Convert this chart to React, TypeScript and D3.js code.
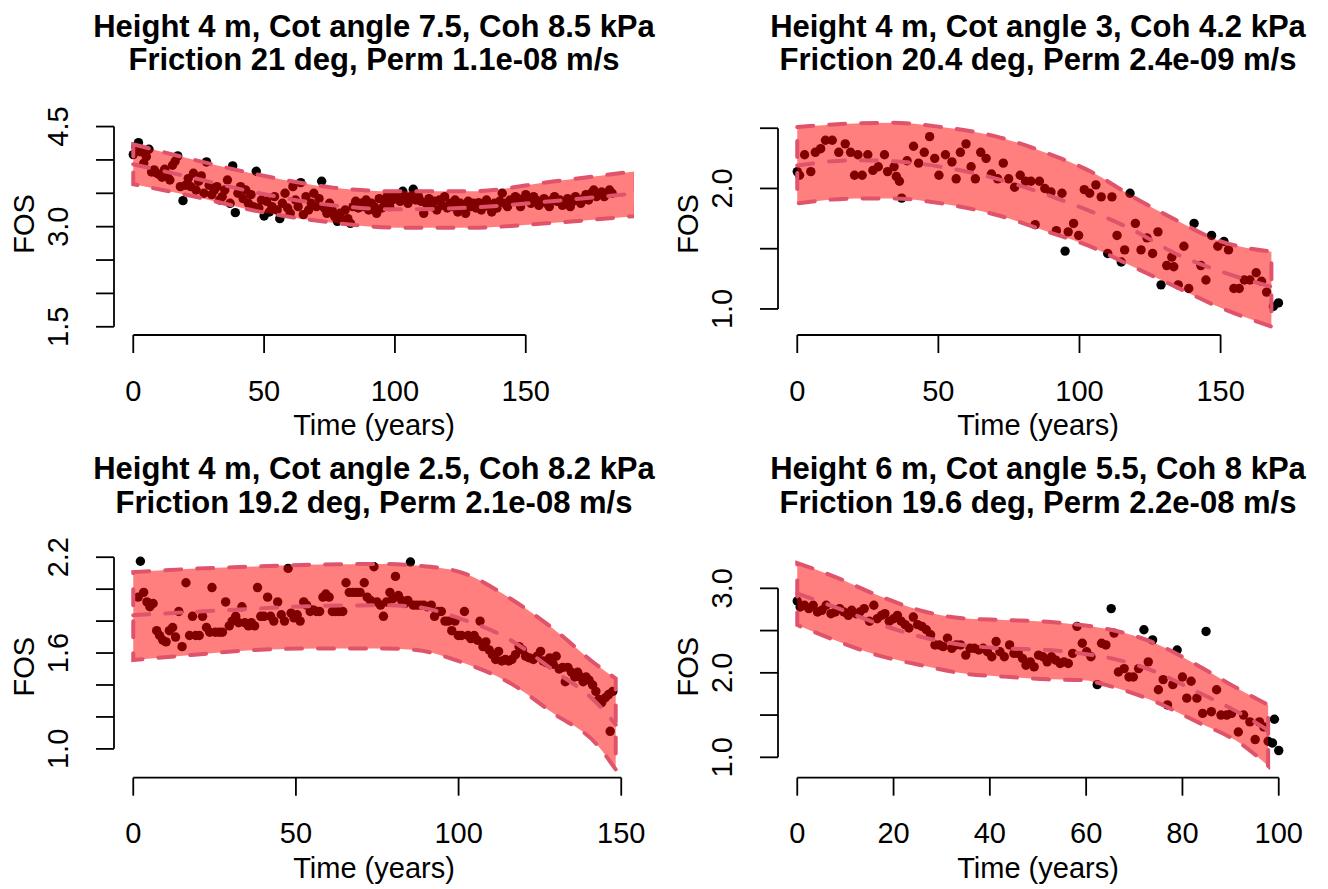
import React from "react";
import * as d3 from "d3";

// panel titles (two lines each)
const titles: string[][] = [
  ["Height 4 m, Cot angle 7.5, Coh 8.5 kPa", "Friction 21 deg, Perm 1.1e-08 m/s"],
  ["Height 4 m, Cot angle 3, Coh 4.2 kPa", "Friction 20.4 deg, Perm 2.4e-09 m/s"],
  ["Height 4 m, Cot angle 2.5, Coh 8.2 kPa", "Friction 19.2 deg, Perm 2.1e-08 m/s"],
  ["Height 6 m, Cot angle 5.5, Coh 8 kPa", "Friction 19.6 deg, Perm 2.2e-08 m/s"],
];

// observed FOS, [year, FOS]
const obs1: number[][] = [
  [0, 4.08], [1, 4.2], [2, 4.26], [3, 4.12], [4, 3.95], [5, 4.05], [6, 4.16], [7, 3.82], [8, 3.85], [9, 3.8],
  [10, 3.78], [11, 3.74], [12, 3.86], [13, 3.78], [14, 3.7], [15, 3.92], [16, 3.98], [17, 4.06], [18, 3.6], [19, 3.39],
  [20, 3.62], [21, 3.72], [22, 3.6], [23, 3.8], [24, 3.55], [25, 3.68], [26, 3.76], [27, 3.5], [28, 3.97], [29, 3.62],
  [30, 3.48], [31, 3.55], [32, 3.6], [33, 3.4], [34, 3.45], [35, 3.55], [36, 3.7], [37, 3.35], [38, 3.91], [39, 3.21],
  [40, 3.5], [41, 3.6], [42, 3.42], [43, 3.55], [44, 3.35], [45, 3.48], [46, 3.3], [47, 3.83], [48, 3.28], [49, 3.4],
  [50, 3.16], [51, 3.38], [52, 3.22], [53, 3.3], [54, 3.45], [55, 3.25], [56, 3.12], [57, 3.35], [58, 3.5], [59, 3.28],
  [60, 3.2], [61, 3.6], [62, 3.4], [63, 3.3], [64, 3.66], [65, 3.18], [66, 3.45], [67, 3.25], [68, 3.35], [69, 3.5],
  [70, 3.3], [71, 3.42], [72, 3.68], [73, 3.28], [74, 3.2], [75, 3.35], [76, 3.25], [77, 3.15], [78, 3.08], [79, 3.2],
  [80, 3.1], [81, 3.25], [82, 3.12], [83, 3.05], [84, 3.3], [85, 3.38], [86, 3.28], [87, 3.35], [88, 3.3], [89, 3.4],
  [90, 3.25], [91, 3.35], [92, 3.3], [93, 3.2], [94, 3.42], [95, 3.28], [96, 3.38], [97, 3.45], [98, 3.3], [99, 3.4],
  [100, 3.48], [101, 3.42], [102, 3.38], [103, 3.53], [104, 3.45], [105, 3.35], [106, 3.45], [107, 3.56], [108, 3.4], [109, 3.45],
  [110, 3.38], [111, 3.2], [112, 3.35], [113, 3.42], [114, 3.3], [115, 3.38], [116, 3.25], [117, 3.4], [118, 3.32], [119, 3.45],
  [120, 3.28], [121, 3.35], [122, 3.3], [123, 3.4], [124, 3.22], [125, 3.35], [126, 3.3], [127, 3.2], [128, 3.38], [129, 3.3],
  [130, 3.35], [131, 3.28], [132, 3.36], [133, 3.25], [134, 3.32], [135, 3.4], [136, 3.3], [137, 3.22], [138, 3.35], [139, 3.28],
  [140, 3.38], [141, 3.5], [142, 3.35], [143, 3.3], [144, 3.4], [145, 3.38], [146, 3.45], [147, 3.42], [148, 3.3], [149, 3.4],
  [150, 3.48], [151, 3.42], [152, 3.35], [153, 3.45], [154, 3.4], [155, 3.32], [156, 3.38], [157, 3.42], [158, 3.35], [159, 3.3],
  [160, 3.4], [161, 3.45], [162, 3.38], [163, 3.4], [164, 3.32], [165, 3.36], [166, 3.42], [167, 3.3], [168, 3.38], [169, 3.45],
  [170, 3.4], [171, 3.35], [172, 3.42], [173, 3.48], [174, 3.4], [175, 3.5], [176, 3.55], [177, 3.45], [178, 3.48], [179, 3.52],
  [180, 3.45], [181, 3.5], [182, 3.55], [183, 3.5],
];

const obs2: number[][] = [
  [0, 2.14], [0.8, 2.11], [2.6, 2.28], [4.8, 2.14], [6.4, 2.3], [8.3, 2.33], [10, 2.4], [12.4, 2.4], [14.7, 2.3], [17, 2.37],
  [18.9, 2.3], [20.3, 2.11], [21.5, 2.28], [23, 2.11], [25, 2.28], [26.8, 2.15], [28.7, 2.18], [30.9, 2.28], [32, 2.14], [34.3, 2.18],
  [35.1, 2.1], [36.2, 2.06], [37, 1.92], [38.9, 2.23], [41.2, 2.35], [43, 2.21], [45, 2.3], [46.9, 2.43], [48.7, 2.25], [50.2, 2.11],
  [52.5, 2.28], [54.8, 2.22], [56.3, 2.08], [57.8, 2.3], [59.8, 2.37], [61.6, 2.18], [63.1, 2.08], [65, 2.3], [66.9, 2.25], [68.8, 2.12],
  [71, 2.08], [73, 2.21], [74.9, 2.08], [77, 2.01], [79, 2.11], [80.9, 2.06], [82.8, 2.06], [84.3, 1.7], [85.8, 2.06], [87.7, 2.0],
  [89.9, 1.97], [91.8, 1.65], [93.8, 1.96], [94.9, 1.48], [96, 1.64], [97.9, 1.71], [99.7, 1.61], [101.7, 1.99], [103.6, 1.96], [105.8, 2.03],
  [107.7, 1.93], [110, 1.46], [111.5, 1.93], [113.3, 1.61], [114.8, 1.39], [116, 1.49], [117.9, 1.96], [119.8, 1.71], [121.8, 1.49], [123.9, 1.59],
  [125.9, 1.46], [127.8, 1.64], [128.9, 1.2], [130.9, 1.36], [132.7, 1.43], [133.4, 1.35], [135, 1.2], [137, 1.52], [138.7, 1.17], [140.6, 1.71],
  [143, 1.36], [144.8, 1.24], [146.8, 1.61], [149, 1.52], [151.2, 1.56], [152.8, 1.49], [154.7, 1.17], [156.6, 1.17], [158.4, 1.24], [160.4, 1.24],
  [162.6, 1.3], [164.5, 1.23], [166.3, 1.14], [168.7, 1.02], [170.5, 1.05],
];

const obs3: number[][] = [
  [1.5, 1.95], [2.2, 2.175], [3.2, 1.98], [4.2, 1.92], [5.1, 1.89], [6.1, 1.91], [7.2, 1.74], [8.1, 1.71], [9.1, 1.68], [10.1, 1.67],
  [11.1, 1.74], [12.1, 1.76], [13, 1.7], [14, 1.86], [15, 1.64], [16.2, 2.04], [17.3, 1.71], [18.2, 1.83], [19.2, 1.71], [20.3, 1.71],
  [21.3, 1.83], [22.5, 1.76], [23.5, 1.73], [24.2, 2.01], [25.2, 1.73], [26.4, 1.73], [27.4, 1.73], [28.4, 1.92], [29.5, 1.77], [30.4, 1.8],
  [31.5, 1.83], [32.4, 1.79], [33.4, 1.89], [34.3, 1.79], [35.4, 1.77], [36.3, 1.79], [37.3, 1.77], [38.2, 2.01], [39.2, 1.83], [40.2, 1.83],
  [41.3, 1.95], [42.2, 1.83], [43.2, 1.8], [44.4, 1.92], [45.5, 1.84], [46.5, 1.8], [47.6, 2.13], [48.5, 1.85], [49.4, 1.82], [50.4, 1.84],
  [51.3, 1.8], [52.4, 1.92], [53.3, 1.9], [54.4, 1.86], [55.3, 1.87], [56.3, 1.86], [57.3, 1.86], [58.3, 1.95], [59.2, 1.97], [60.2, 1.95],
  [61.2, 1.86], [62.2, 1.86], [63.2, 1.86], [64.4, 1.86], [65.4, 2.04], [66.4, 1.98], [67.5, 1.98], [68.6, 1.98], [69.7, 1.98], [71, 2.04],
  [71.9, 1.95], [72.9, 1.93], [74, 2.14], [74.9, 1.92], [76, 1.9], [76.9, 1.83], [77.9, 1.92], [78.9, 1.98], [79.8, 1.94], [80.6, 2.08],
  [81.5, 1.96], [82.5, 1.93], [83.5, 1.91], [84.4, 1.93], [85.2, 2.17], [86.1, 1.9], [87.1, 1.9], [88.2, 1.9], [89.3, 1.9], [90.4, 1.89],
  [91.6, 1.9], [92.6, 1.83], [93.7, 1.86], [94.7, 1.86], [95.8, 1.8], [96.8, 1.8], [97.9, 1.74], [98.9, 1.8], [99.9, 1.71], [100.9, 1.71],
  [101.8, 1.86], [102.9, 1.71], [103.8, 1.69], [104.8, 1.71], [105.8, 1.68], [106.6, 1.8], [107.5, 1.64], [108.4, 1.67], [109.4, 1.62], [110.4, 1.59],
  [111.4, 1.56], [112.3, 1.61], [113.3, 1.55], [114.4, 1.56], [115.4, 1.55], [116.4, 1.56], [117.5, 1.59], [118.6, 1.64], [119.6, 1.62], [120.6, 1.58],
  [121.8, 1.57], [123, 1.56], [124.1, 1.58], [125.2, 1.61], [126, 1.55], [127, 1.54], [128, 1.57], [129.1, 1.53], [130, 1.58], [130.9, 1.5],
  [132, 1.51], [132.8, 1.42], [133.6, 1.51], [134.7, 1.48], [135.7, 1.45], [136.6, 1.48], [137.5, 1.45], [138.3, 1.42], [139.2, 1.45], [140.1, 1.43],
  [141.2, 1.4], [142.2, 1.36], [143.1, 1.31], [144, 1.29], [145.1, 1.32], [146.1, 1.34], [146.6, 1.11], [147.4, 1.36],
];

const obs4: number[][] = [
  [0, 2.85], [0.6, 2.78], [1.5, 2.8], [2.4, 2.76], [3.3, 2.8], [4.2, 2.72], [5.1, 2.74], [6, 2.8], [7, 2.7], [7.9, 2.72],
  [8.8, 2.76], [9.7, 2.72], [10.6, 2.68], [11.3, 2.74], [12.2, 2.7], [13, 2.72], [13.9, 2.76], [15, 2.61], [15.9, 2.8], [16.6, 2.64],
  [17.5, 2.68], [18.2, 2.7], [19.1, 2.61], [20, 2.64], [20.8, 2.68], [21.6, 2.61], [22.4, 2.57], [23.2, 2.53], [24.1, 2.66], [25, 2.57],
  [25.9, 2.55], [26.8, 2.51], [27.7, 2.45], [28.6, 2.33], [29.5, 2.33], [30.3, 2.31], [31.2, 2.41], [32.1, 2.29], [33, 2.33], [33.9, 2.33],
  [35, 2.21], [35.9, 2.29], [36.8, 2.29], [37.7, 2.27], [38.6, 2.29], [39.5, 2.25], [40.4, 2.19], [41.3, 2.37], [42.1, 2.25], [43, 2.19],
  [44.1, 2.33], [45, 2.23], [45.9, 2.23], [46.8, 2.17], [47.5, 2.09], [48.4, 2.13], [49.2, 2.07], [50.1, 2.21], [51, 2.19], [51.9, 2.13],
  [52.8, 2.19], [53.7, 2.15], [54.6, 2.11], [55.4, 2.13], [56.3, 2.11], [57.2, 2.23], [58.1, 2.55], [59.2, 2.35], [60.1, 2.25], [61, 2.19],
  [62.3, 1.86], [63.2, 2.35], [64.1, 2.33], [65.2, 2.76], [65.8, 2.47], [66.7, 2.01], [67.9, 2.05], [68.9, 1.95], [69.8, 1.95], [70.9, 2.05],
  [72, 2.51], [72.9, 2.13], [73.8, 2.39], [75, 1.8], [76, 1.92], [76.9, 1.62], [78, 1.86], [78.9, 2.27], [80, 1.95], [80.9, 1.7],
  [81.8, 1.9], [83, 1.7], [84.2, 1.52], [84.9, 2.49], [86, 1.54], [87.1, 1.8], [88, 1.5], [89.2, 1.5], [90.2, 1.52], [91.6, 1.3],
  [92.7, 1.5], [94, 1.42], [95.1, 1.21], [96, 1.42], [96.9, 1.36], [97.8, 1.19], [98.7, 1.17], [99.1, 1.45], [100, 1.08],
];

// fitted curve and prediction band, [year] with lower / mid / upper
const bandYears1 = [0, 22.4, 50.2, 76.3, 101, 128.6, 161, 192];
const bandLow1 = [3.635, 3.46, 3.21, 3.06, 2.985, 2.985, 3.06, 3.16];
const bandMid1 = [3.935, 3.735, 3.485, 3.32, 3.26, 3.285, 3.385, 3.5];
const bandHigh1 = [4.235, 4.01, 3.76, 3.585, 3.53, 3.53, 3.68, 3.83];

const bandYears2 = [0, 20.7, 34, 51, 70.7, 88.8, 104, 119, 134, 149, 168];
const bandLow2 = [1.876, 1.917, 1.917, 1.876, 1.78, 1.64, 1.517, 1.35, 1.185, 1.02, 0.854];
const bandMid2 = [2.19, 2.235, 2.225, 2.18, 2.08, 1.945, 1.81, 1.655, 1.46, 1.32, 1.185];
const bandHigh2 = [2.51, 2.54, 2.545, 2.51, 2.43, 2.29, 2.14, 1.93, 1.74, 1.57, 1.475];

const bandYears3 = [0, 17.9, 37.6, 57, 77, 87, 100.5, 116, 129, 142.5, 148.3];
const bandLow3 = [1.556, 1.588, 1.619, 1.629, 1.629, 1.619, 1.546, 1.41, 1.224, 1.027, 0.871];
const bandMid3 = [1.837, 1.857, 1.878, 1.895, 1.899, 1.889, 1.816, 1.681, 1.494, 1.287, 1.152];
const bandHigh3 = [2.107, 2.127, 2.142, 2.154, 2.158, 2.148, 2.107, 1.94, 1.754, 1.525, 1.44];

const bandYears4 = [0, 7.7, 16.6, 25.5, 34.3, 43, 52, 59, 65.4, 74.3, 83, 92, 97.8];
const bandLow4 = [2.566, 2.389, 2.21, 2.093, 1.994, 1.955, 1.923, 1.915, 1.836, 1.659, 1.42, 1.166, 0.9];
const bandMid4 = [2.94, 2.78, 2.586, 2.43, 2.33, 2.29, 2.27, 2.23, 2.17, 2.014, 1.777, 1.52, 1.32];
const bandHigh4 = [3.3, 3.14, 2.92, 2.74, 2.645, 2.625, 2.605, 2.566, 2.507, 2.35, 2.093, 1.797, 1.62];

// axis ranges and ticks
const xLims = [[0, 184], [0, 170.6], [0, 148], [0, 100]];
const yLims = [[1.5, 4.58], [0.852, 2.558], [0.871, 2.158], [0.856, 3.289]];
const xTickVals = [[0, 50, 100, 150], [0, 50, 100, 150], [0, 50, 100, 150], [0, 20, 40, 60, 80, 100]];
const yTickVals = [
  [1.5, 2, 2.5, 3, 3.5, 4, 4.5],
  [1, 1.5, 2, 2.5],
  [1, 1.2, 1.4, 1.6, 1.8, 2, 2.2],
  [1, 1.5, 2, 2.5, 3],
];
const yTickLabels = [["1.5", "3.0", "4.5"], ["1.0", "2.0"], ["1.0", "1.6", "2.2"], ["1.0", "2.0", "3.0"]];

const FONT = "'Liberation Sans', Arial, Helvetica, sans-serif";
const BAND_FILL = "rgba(255,0,0,0.5)";
const LINE_COL = "#DF536B";

type PanelProps = {
  idx: number;
  obs: number[][];
  years: number[];
  low: number[];
  mid: number[];
  high: number[];
};

const Panel = ({ idx, obs, years, low, mid, high }: PanelProps) => {
  const col = idx % 2;
  const row = Math.floor(idx / 2);
  const left = col * 664 + 114;
  const bottom = row === 0 ? 335 : 777.7;
  const top = bottom - 222;
  const right = left + 520;
  const dy = bottom - 335;

  const pad = (l: number[]) => [l[0] - 0.04 * (l[1] - l[0]), l[1] + 0.04 * (l[1] - l[0])];
  const x = d3.scaleLinear().domain(pad(xLims[idx])).range([left, right]);
  const y = d3.scaleLinear().domain(pad(yLims[idx])).range([bottom, top]);

  const band = years.map((t, i) => ({ t, lo: low[i], mid: mid[i], hi: high[i] }));
  const area = d3
    .area<any>()
    .x((d) => x(d.t))
    .y0((d) => y(d.lo))
    .y1((d) => y(d.hi))
    .curve(d3.curveMonotoneX);
  const line = d3
    .line<any>()
    .x((d) => x(d.t))
    .y((d) => y(d.mid))
    .curve(d3.curveMonotoneX);

  const xt = xTickVals[idx];
  const yt = yTickVals[idx];
  const clipId = `clip${idx}`;
  const cx = (left + right) / 2;
  const cy = (top + bottom) / 2;

  return (
    <g>
      <defs>
        <clipPath id={clipId}>
          <rect x={left} y={top} width={right - left} height={bottom - top} />
        </clipPath>
      </defs>

      <text x={cx} y={36.7 + dy} textAnchor="middle" fontFamily={FONT} fontWeight="bold" fontSize={31}>
        {titles[idx][0]}
      </text>
      <text x={cx} y={70 + dy} textAnchor="middle" fontFamily={FONT} fontWeight="bold" fontSize={31}>
        {titles[idx][1]}
      </text>

      <g clipPath={`url(#${clipId})`}>
        {obs.map((d, i) => (
          <circle key={i} cx={x(d[0])} cy={y(d[1])} r={4.7} fill="black" />
        ))}
        <path d={area(band) || ""} fill={BAND_FILL} stroke="none" />
        <path
          d={area(band) || ""}
          fill="none"
          stroke={LINE_COL}
          strokeWidth={4}
          strokeDasharray="16 16"
          strokeLinecap="round"
        />
        <path
          d={line(band) || ""}
          fill="none"
          stroke={LINE_COL}
          strokeWidth={4}
          strokeDasharray="16 16"
          strokeLinecap="round"
        />
      </g>

      {/* x axis */}
      <line x1={x(xt[0])} x2={x(xt[xt.length - 1])} y1={bottom} y2={bottom} stroke="black" strokeWidth={1.8} />
      {xt.map((t) => (
        <g key={t}>
          <line x1={x(t)} x2={x(t)} y1={bottom} y2={bottom + 18} stroke="black" strokeWidth={1.8} />
          <text x={x(t)} y={bottom + 65.7} textAnchor="middle" fontFamily={FONT} fontSize={29}>
            {t}
          </text>
        </g>
      ))}
      <text x={cx} y={bottom + 100} textAnchor="middle" fontFamily={FONT} fontSize={29}>
        Time (years)
      </text>

      {/* y axis */}
      <line x1={left} x2={left} y1={y(yt[0])} y2={y(yt[yt.length - 1])} stroke="black" strokeWidth={1.8} />
      {yt.map((v) => (
        <line key={v} x1={left - 18} x2={left} y1={y(v)} y2={y(v)} stroke="black" strokeWidth={1.8} />
      ))}
      {yTickLabels[idx].map((s) => (
        <text
          key={s}
          transform={`translate(${left - 46},${y(+s)}) rotate(-90)`}
          textAnchor="middle"
          fontFamily={FONT}
          fontSize={29}
        >
          {s}
        </text>
      ))}
      <text
        transform={`translate(${left - 80.3},${cy}) rotate(-90)`}
        textAnchor="middle"
        fontFamily={FONT}
        fontSize={29}
      >
        FOS
      </text>
    </g>
  );
};

export default function App() {
  return (
    <svg
      width={1328}
      height={889}
      style={{ position: "absolute", left: 0, top: 0, background: "white" }}
    >
      <rect width={1328} height={889} fill="white" />
      <Panel idx={0} obs={obs1} years={bandYears1} low={bandLow1} mid={bandMid1} high={bandHigh1} />
      <Panel idx={1} obs={obs2} years={bandYears2} low={bandLow2} mid={bandMid2} high={bandHigh2} />
      <Panel idx={2} obs={obs3} years={bandYears3} low={bandLow3} mid={bandMid3} high={bandHigh3} />
      <Panel idx={3} obs={obs4} years={bandYears4} low={bandLow4} mid={bandMid4} high={bandHigh4} />
    </svg>
  );
}
